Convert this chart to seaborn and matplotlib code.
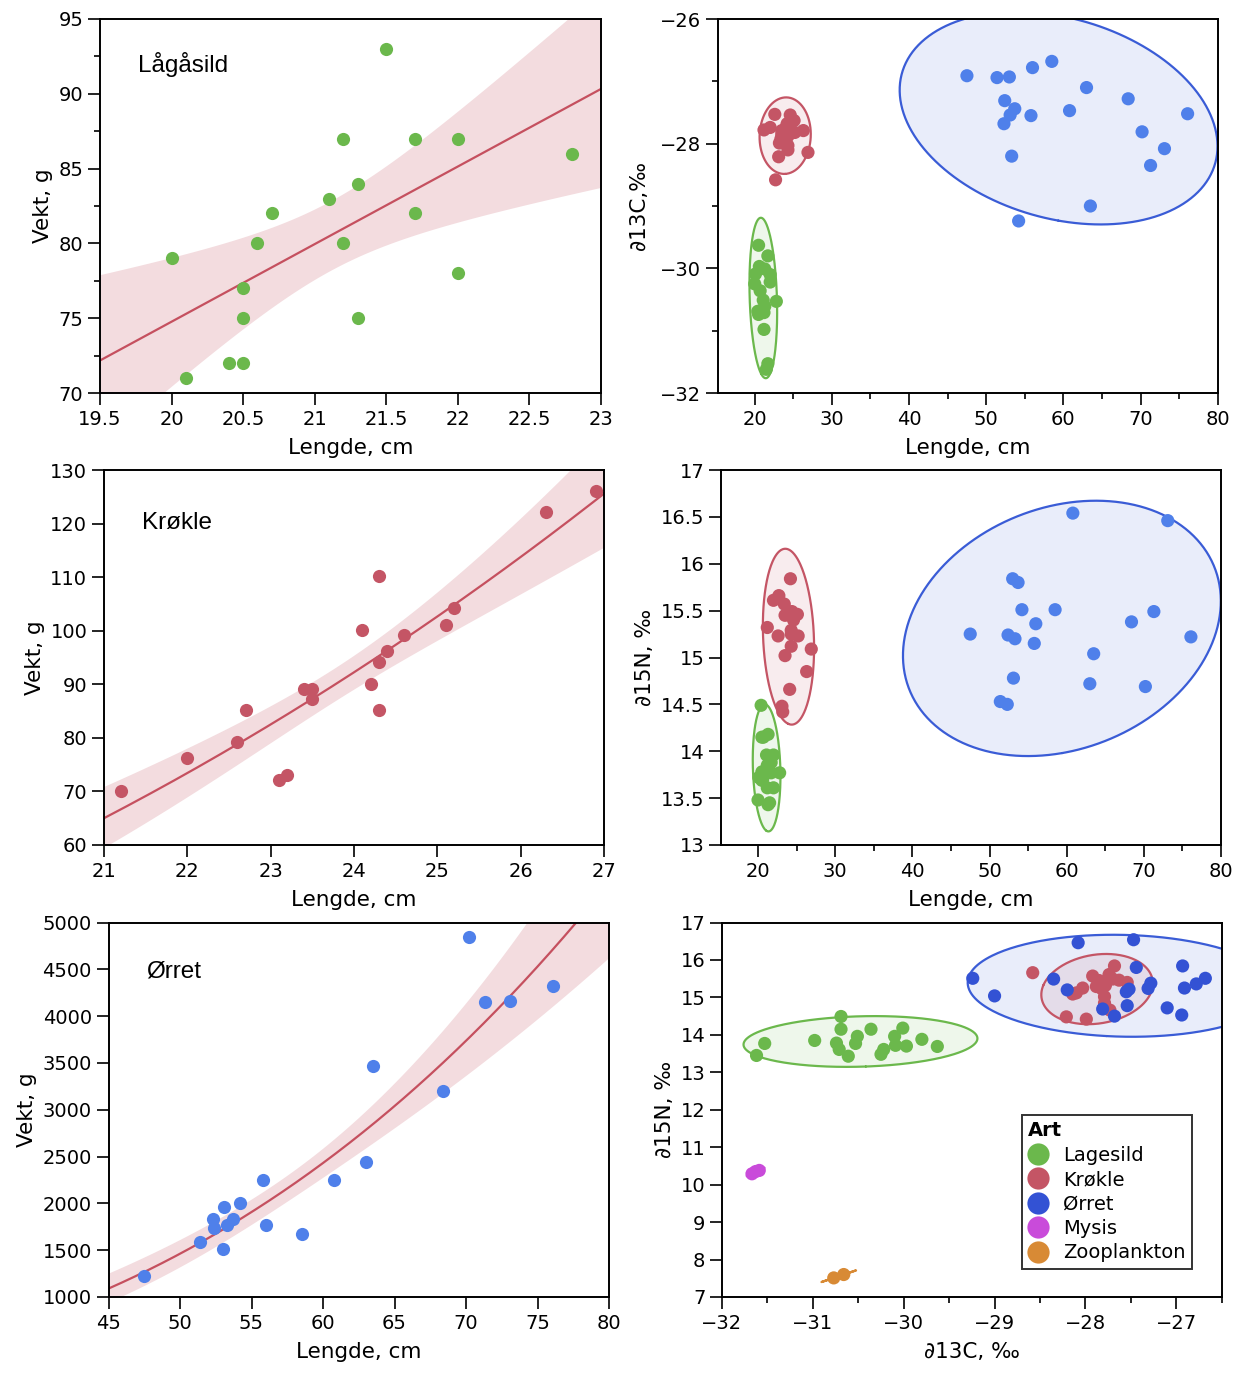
import numpy as np
import pandas as pd
import matplotlib
matplotlib.use("Agg")
import matplotlib.pyplot as plt
import seaborn as sns
from matplotlib.lines import Line2D
from matplotlib.ticker import MultipleLocator, FuncFormatter

# ---------------- data ----------------
lagesild_lengde = [20.0, 20.1, 20.4, 20.5, 20.5, 20.5, 20.6, 20.7, 21.1, 21.2,
                   21.2, 21.3, 21.3, 21.5, 21.7, 21.7, 22.0, 22.0, 22.8]
lagesild_vekt = [79, 71, 72, 72, 77, 75, 80, 82, 83, 87, 80, 84, 75, 93, 87, 82, 87, 78, 86]
lagesild_d13c = [-30.25, -30.09, -30.69, -29.63, -30.69, -30.74, -29.97, -30.36, -30.51, -30.71,
                 -30.98, -30.01, -30.61, -31.62, -29.80, -31.53, -30.10, -30.22, -30.53]
lagesild_d15n = [13.48, 13.72, 14.49, 13.69, 14.15, 13.78, 13.70, 14.15, 13.96, 13.61,
                 13.85, 14.18, 13.43, 13.45, 13.88, 13.77, 13.96, 13.61, 13.77]

krokle_lengde = [21.2, 22.0, 22.6, 22.7, 23.1, 23.2, 23.4, 23.5, 23.5, 24.1,
                 24.2, 24.3, 24.3, 24.3, 24.4, 24.6, 25.1, 25.2, 26.3, 26.9]
krokle_vekt = [70.1, 76.2, 79.2, 85.2, 72.1, 73.1, 89.1, 89.1, 87.3, 100.1,
               90.1, 110.2, 94.2, 85.2, 96.2, 99.2, 101.1, 104.2, 122.2, 126.1]
krokle_d13c = [-27.78, -27.74, -27.53, -28.58, -28.21, -27.99, -27.92, -27.79, -27.85, -27.73,
               -27.68, -28.10, -27.88, -28.03, -27.70, -27.54, -27.63, -27.82, -27.79, -28.14]
krokle_d15n = [15.32, 15.61, 15.23, 15.66, 14.48, 14.42, 15.57, 15.02, 15.45, 14.66,
               15.84, 15.12, 15.29, 15.25, 15.49, 15.40, 15.46, 15.23, 14.85, 15.09]

orret_lengde = [47.5, 51.4, 52.3, 52.4, 53.0, 53.1, 53.3, 53.7, 54.2, 55.8,
                56.0, 58.5, 60.8, 63.0, 63.5, 68.4, 70.2, 71.3, 73.1, 76.1]
orret_vekt = [1227, 1587, 1829, 1733, 1515, 1957, 1771, 1829, 2003, 2248,
              1768, 1669, 2255, 2447, 3467, 3205, 4848, 4147, 4165, 4325]
orret_d13c = [-26.91, -26.94, -27.68, -27.31, -26.93, -27.54, -28.20, -27.44, -29.24, -27.55,
              -26.78, -26.68, -27.47, -27.10, -29.00, -27.28, -27.81, -28.35, -28.08, -27.52]
orret_d15n = [15.25, 14.53, 14.50, 15.24, 15.84, 14.78, 15.20, 15.80, 15.51, 15.15,
              15.36, 15.51, 16.54, 14.72, 15.04, 15.38, 14.69, 15.49, 16.46, 15.22]

mysis_d13c = [-31.67, -31.63, -31.59]
mysis_d15n = [10.29, 10.35, 10.38]
zoo_d13c = [-30.77, -30.66]
zoo_d15n = [7.51, 7.60]

arter = ["Lagesild", "Krøkle", "Ørret", "Mysis", "Zooplankton"]

# ---------------- style ----------------
GREEN = "#6BB84C"
RED = "#C45565"
BLUE = "#4F80EA"
BLUE_DARK = "#3352D4"
BLUE_EDGE = "#3A5CD6"
MAGENTA = "#C94BDA"
ORANGE = "#D88A35"
LINE_RED = "#C5505F"

sns.set_theme(style="ticks")
plt.rcParams.update({
    "font.family": ["DejaVu Sans"],
    "axes.linewidth": 1.4,
    "axes.edgecolor": "black",
    "axes.labelcolor": "black",
    "text.color": "black",
    "xtick.color": "black",
    "ytick.color": "black",
    "xtick.labelsize": 14,
    "ytick.labelsize": 14,
    "axes.labelsize": 15.5,
    "xtick.major.size": 8.5,
    "ytick.major.size": 8.5,
    "xtick.minor.size": 4,
    "ytick.minor.size": 4,
    "xtick.major.width": 1.2,
    "ytick.major.width": 1.2,
    "xtick.minor.width": 1.2,
    "ytick.minor.width": 1.2,
    "xtick.direction": "out",
    "ytick.direction": "out",
})

W, H = 1243, 1382
fig = plt.figure(figsize=(W / 100, H / 100), dpi=100)


def rect(left, right, top, bottom):
    return [left / W, 1 - bottom / H, (right - left) / W, (bottom - top) / H]


fmt = FuncFormatter(lambda v, p: ("%g" % v).replace("-", "\u2212"))

lag = pd.DataFrame({"Lengde": lagesild_lengde, "Vekt": lagesild_vekt,
                    "d13C": lagesild_d13c, "d15N": lagesild_d15n, "Art": "Lagesild"})
kro = pd.DataFrame({"Lengde": krokle_lengde, "Vekt": krokle_vekt,
                    "d13C": krokle_d13c, "d15N": krokle_d15n, "Art": "Krøkle"})
orr = pd.DataFrame({"Lengde": orret_lengde, "Vekt": orret_vekt,
                    "d13C": orret_d13c, "d15N": orret_d15n, "Art": "Ørret"})
mys = pd.DataFrame({"d13C": mysis_d13c, "d15N": mysis_d15n, "Art": "Mysis"})
zoo = pd.DataFrame({"d13C": zoo_d13c, "d15N": zoo_d15n, "Art": "Zooplankton"})
fish = pd.concat([lag, kro, orr], ignore_index=True)
alle = pd.concat([lag, kro, orr, mys, zoo], ignore_index=True)

XLABELPAD = 7


def t975(dof):
    try:
        from scipy import stats
        return float(stats.t.ppf(0.975, dof))
    except Exception:
        table = {16: 2.1199, 17: 2.1098, 18: 2.1009, 19: 2.0930}
        return table.get(dof, 2.1)


def finish(ax, xlim, ylim, xmaj, ymaj, xmin=None, ymin=None):
    ax.set_xlim(xlim)
    ax.set_ylim(ylim)
    ax.xaxis.set_major_locator(MultipleLocator(xmaj))
    ax.yaxis.set_major_locator(MultipleLocator(ymaj))
    if xmin:
        ax.xaxis.set_minor_locator(MultipleLocator(xmin))
    if ymin:
        ax.yaxis.set_minor_locator(MultipleLocator(ymin))
    ax.xaxis.set_major_formatter(fmt)
    ax.yaxis.set_major_formatter(fmt)
    ax.tick_params(which="both", top=False, right=False)
    for s in ax.spines.values():
        s.set_visible(True)
        s.set_color("black")
        s.set_linewidth(1.4)


def fit_panel(ax, df, color, power, xlim, title, ty):
    x = df["Lengde"].to_numpy(float)
    y = df["Vekt"].to_numpy(float)
    X = np.log(x) if power else x
    Y = np.log(y) if power else y
    n = len(X)
    b, a = np.polyfit(X, Y, 1)
    resid = Y - (a + b * X)
    s = np.sqrt((resid ** 2).sum() / (n - 2))
    grid = np.linspace(xlim[0], xlim[1], 300)
    G = np.log(grid) if power else grid
    se = s * np.sqrt(1 / n + (G - X.mean()) ** 2 / ((X - X.mean()) ** 2).sum())
    t = t975(n - 2)
    fit = a + b * G
    lo, hi = fit - t * se, fit + t * se
    if power:
        fit, lo, hi = np.exp(fit), np.exp(lo), np.exp(hi)
    ax.fill_between(grid, lo, hi, color=LINE_RED, alpha=0.2, lw=0, zorder=1)
    sns.lineplot(x=grid, y=fit, ax=ax, color=LINE_RED, lw=1.6, zorder=2)
    sns.scatterplot(data=df, x="Lengde", y="Vekt", ax=ax, color=color, s=90,
                    linewidth=0, alpha=1, zorder=3)
    ax.text(0.075, ty, title, transform=ax.transAxes, fontsize=17.5,
            family="Liberation Sans", va="baseline", ha="left")
    ax.set_xlabel("Lengde, cm", labelpad=XLABELPAD)
    ax.set_ylabel("Vekt, g")


def conf_ellipse(x, y, n=300):
    x = np.asarray(x, float)
    y = np.asarray(y, float)
    cov = np.cov(x, y)
    vals, vecs = np.linalg.eigh(cov)
    vals = np.clip(vals, 0, None)
    k = np.sqrt(-2 * np.log(0.05))
    t = np.linspace(0, 2 * np.pi, n)
    circ = np.stack([np.cos(t), np.sin(t)])
    pts = vecs @ (np.sqrt(vals)[:, None] * circ) * k
    return x.mean() + pts[0], y.mean() + pts[1]


def draw_ellipse(ax, x, y, color):
    ex, ey = conf_ellipse(x, y)
    ax.fill(ex, ey, color=color, alpha=0.11, lw=0, zorder=1)
    ax.plot(ex, ey, color=color, lw=1.6, zorder=2)


# ---------- Panel 1: Lågåsild ----------
ax1 = fig.add_axes(rect(100, 601, 19, 393))
fit_panel(ax1, lag, GREEN, False, (19.5, 23), "Lågåsild", 0.859)
finish(ax1, (19.5, 23), (70, 95), 0.5, 5, None, 2.5)

# ---------- Panel 3: Krøkle ----------
ax3 = fig.add_axes(rect(104, 604, 470, 845))
fit_panel(ax3, kro, RED, True, (21, 27), "Krøkle", 0.843)
finish(ax3, (21, 27), (60, 130), 1, 10)

# ---------- Panel 5: Ørret ----------
ax5 = fig.add_axes(rect(108.5, 609, 922.5, 1297))
fit_panel(ax5, orr, BLUE, True, (45, 80), "Ørret", 0.853)
finish(ax5, (45, 80), (1000, 5000), 5, 500)

# ---------- Panel 2: length vs d13C ----------
pal_top = {"Lagesild": GREEN, "Krøkle": RED, "Ørret": BLUE}
edge_top = {"Lagesild": GREEN, "Krøkle": RED, "Ørret": BLUE_EDGE}
ax2 = fig.add_axes(rect(717.7, 1217.7, 19, 393))
for art, d in fish.groupby("Art", sort=False):
    draw_ellipse(ax2, d["Lengde"], d["d13C"], edge_top[art])
sns.scatterplot(data=fish, x="Lengde", y="d13C", hue="Art", palette=pal_top, s=90,
                linewidth=0, alpha=1, legend=False, ax=ax2, zorder=3)
ax2.set_xlabel("Lengde, cm", labelpad=XLABELPAD)
ax2.set_ylabel("\u220213C,\u2030", labelpad=8)
finish(ax2, (15.2, 80), (-32, -26), 10, 2, 5, 1)

# ---------- Panel 4: length vs d15N ----------
ax4 = fig.add_axes(rect(721, 1221, 470, 845))
for art, d in fish.groupby("Art", sort=False):
    draw_ellipse(ax4, d["Lengde"], d["d15N"], edge_top[art])
sns.scatterplot(data=fish, x="Lengde", y="d15N", hue="Art", palette=pal_top, s=90,
                linewidth=0, alpha=1, legend=False, ax=ax4, zorder=3)
ax4.set_xlabel("Lengde, cm", labelpad=XLABELPAD)
ax4.set_ylabel("\u220215N, \u2030")
finish(ax4, (15.2, 80), (13, 17), 10, 0.5, 5)

# ---------- Panel 6: d13C vs d15N ----------
pal_bot = {"Lagesild": GREEN, "Krøkle": RED, "Ørret": BLUE_DARK,
           "Mysis": MAGENTA, "Zooplankton": ORANGE}
edge_bot = {"Lagesild": GREEN, "Krøkle": RED, "Ørret": BLUE_EDGE,
            "Mysis": MAGENTA, "Zooplankton": ORANGE}
ax6 = fig.add_axes(rect(722, 1221.7, 922.5, 1297))
for art in ["Ørret", "Lagesild", "Krøkle", "Mysis", "Zooplankton"]:
    d = alle[alle["Art"] == art]
    draw_ellipse(ax6, d["d13C"], d["d15N"], edge_bot[art])
sns.scatterplot(data=alle, x="d13C", y="d15N", hue="Art", palette=pal_bot, s=90,
                linewidth=0, alpha=1, legend=False, ax=ax6, zorder=3)
ax6.set_xlabel("\u220213C, \u2030", labelpad=XLABELPAD)
ax6.set_ylabel("\u220215N, \u2030")
finish(ax6, (-32, -26.5), (7, 17), 1, 1, 0.5)

handles = [Line2D([], [], marker="o", ls="", markersize=16, markerfacecolor=pal_bot[a],
                  markeredgewidth=0, label=a) for a in arter]
leg = ax6.legend(handles=handles, title="Art", loc="upper left",
                 bbox_to_anchor=(0.6, 0.486), borderaxespad=0, frameon=True,
                 fancybox=False, edgecolor="black", fontsize=14,
                 title_fontproperties={"weight": "bold", "size": 14},
                 handletextpad=0.75, labelspacing=0.28, borderpad=0.32,
                 handlelength=1.05, alignment="left")
leg.get_frame().set_linewidth(1.4)

fig.savefig("out.png", dpi=100)
